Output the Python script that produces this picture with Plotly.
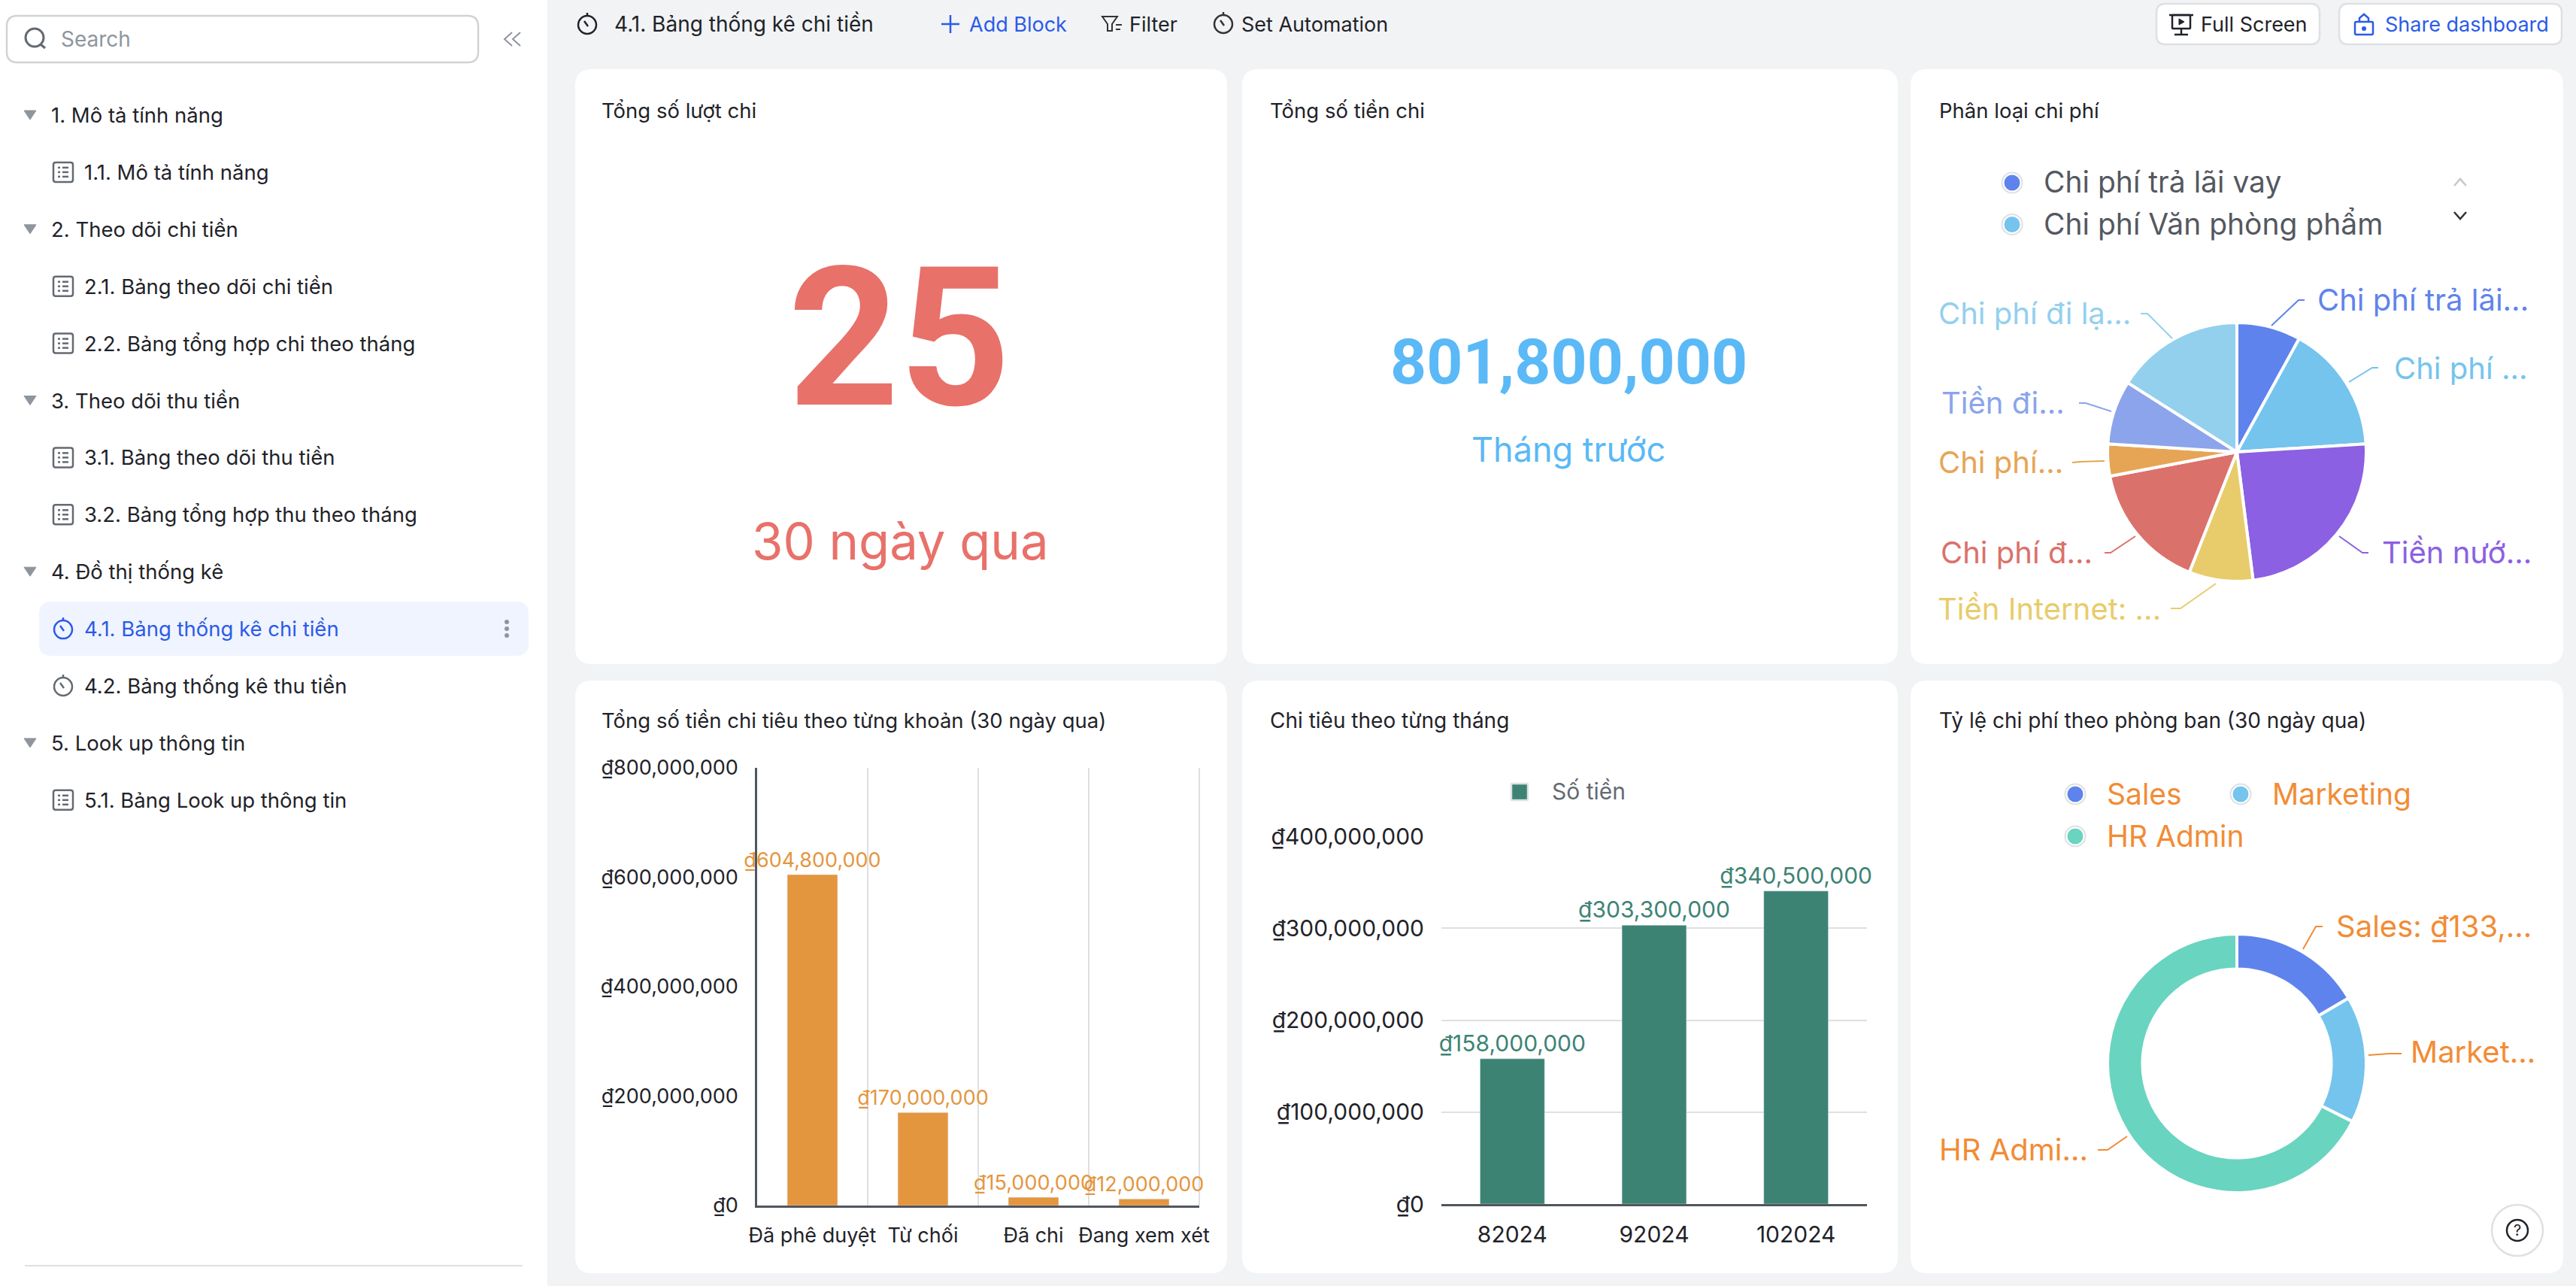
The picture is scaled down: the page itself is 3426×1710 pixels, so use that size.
import plotly.graph_objects as go

W = 3426
H = 1710

# data
status_names = ["Đã phê duyệt", "Từ chối", "Đã chi", "Đang xem xét"]
status_values = [604800000, 170000000, 15000000, 12000000]
month_names = ["82024", "92024", "102024"]
month_values = [158000000, 303300000, 340500000]
cost_names = ["Chi phí trả lãi vay", "Chi phí Văn phòng phẩm", "Tiền nước", "Tiền Internet",
              "Chi phí điện", "Chi phí khác", "Tiền điện", "Chi phí đi lại"]
cost_labels = ["Chi phí trả lãi...", "Chi phí ...", "Tiền nướ...", "Tiền Internet: ...",
               "Chi phí đ...", "Chi phí...", "Tiền đi...", "Chi phí đi lạ..."]
cost_shares = [8, 16, 24, 8, 16, 4, 8, 16]
dept_names = ["Sales", "Marketing", "HR Admin"]
dept_labels = ["Sales: ₫133,...", "Market...", "HR Admi..."]
dept_values = [133000000, 127000000, 541800000]
total_count = "25"
total_money = "801,800,000"

menu_items = ["1. Mô tả tính năng", "1.1. Mô tả tính năng", "2. Theo dõi chi tiền", "2.1. Bảng theo dõi chi tiền",
              "2.2. Bảng tổng hợp chi theo tháng", "3. Theo dõi thu tiền", "3.1. Bảng theo dõi thu tiền",
              "3.2. Bảng tổng hợp thu theo tháng", "4. Đồ thị thống kê", "4.1. Bảng thống kê chi tiền",
              "4.2. Bảng thống kê thu tiền", "5. Look up thông tin", "5.1. Bảng Look up thông tin"]
menu_kinds = ["group", "table", "group", "table", "table", "group", "table", "table", "group",
              "active", "clock", "group", "table"]

cost_colors = ["#5F83EC", "#74C4EE", "#8B60E3", "#E8CC6B", "#DB716B", "#E6A555", "#8BA4EB", "#93D0EE"]
dept_colors = ["#5F83EC", "#74C4EE", "#69D4C0"]
ORANGE = "#E4963F"
GREEN = "#3D8374"
LABEL_ORANGE = "#F28C35"
DARK = "#1F2329"
GREY = "#8F959E"
BLUE = "#2B5BE8"
FONT = "Inter"

shapes = []
notes = []


def fx(x):
    return x / W


def fy(y):
    return 1 - y / H


def text(x, y, s, size=28, color=DARK, anchor="left", family=FONT):
    notes.append(dict(x=fx(x), y=fy(y), xref="paper", yref="paper", text=s, showarrow=False,
                      xanchor=anchor, yanchor="middle", borderpad=0,
                      font=dict(family=family, size=size, color=color)))


def path(points, color, width=2, fill=None, closed=False, layer="above"):
    d = "M " + " L ".join(f"{fx(p[0])} {fy(p[1])}" for p in points)
    if closed:
        d += " Z"
    shapes.append(dict(type="path", xref="paper", yref="paper", path=d, layer=layer,
                       line=dict(color=color, width=width), fillcolor=fill))


def rounded(x0, y0, x1, y1, r, fill="white", border=None, width=2, layer="below"):
    a, b, c, d = fx(x0), fy(y0), fx(x1), fy(y1)
    rx, ry = r / W, r / H
    p = (f"M {a + rx} {b} L {c - rx} {b} Q {c} {b} {c} {b - ry} L {c} {d + ry} Q {c} {d} {c - rx} {d} "
         f"L {a + rx} {d} Q {a} {d} {a} {d + ry} L {a} {b - ry} Q {a} {b} {a + rx} {b} Z")
    line = dict(color=border, width=width) if border else dict(width=0)
    shapes.append(dict(type="path", xref="paper", yref="paper", path=p, fillcolor=fill, line=line, layer=layer))


def circle(cx, cy, r, fill=None, border=None, width=2):
    line = dict(color=border, width=width) if border else dict(width=0)
    shapes.append(dict(type="circle", xref="paper", yref="paper", x0=fx(cx - r), x1=fx(cx + r),
                       y0=fy(cy + r), y1=fy(cy - r), fillcolor=fill, line=line, layer="above"))


def table_icon(cx, cy, color="#646A73"):
    rounded(cx - 13, cy - 13, cx + 13, cy + 13, 3, fill="white", border=color, width=2.5, layer="above")
    for dy in (-6, 0, 6):
        path([(cx - 7, cy + dy), (cx - 4, cy + dy)], color, 2.5)
        path([(cx - 1, cy + dy), (cx + 7, cy + dy)], color, 2.5)


def clock_icon(cx, cy, color):
    circle(cx, cy, 12, border=color, width=2.5)
    path([(cx, cy - 12), (cx, cy - 16)], color, 2.5)
    path([(cx - 4, cy - 5), (cx + 1, cy + 2)], color, 2.5)


# page blocks
rounded(-10, -10, 728, H + 10, 0)
cols = [(765, 1632), (1652, 2524), (2541, 3409)]
rows = [(92, 883), (905, 1693)]
for r in rows:
    for c in cols:
        rounded(c[0], r[0], c[1], r[1], 22)

# sidebar
rounded(9, 21, 636, 83, 14, border="#D0D3D6", width=2.5)
circle(46, 50, 12, border="#646A73", width=3)
path([(54, 59), (60, 64)], "#646A73", 3)
text(80, 52, "Search", 28, GREY)
path([(681, 43), (671, 52), (681, 61)], GREY, 2)
path([(692, 43), (682, 52), (692, 61)], GREY, 2)
rounded(52, 800, 703, 872, 16, fill="#F0F4FF")
for i in range(len(menu_items)):
    y = 153 + i * 75.9
    kind = menu_kinds[i]
    if kind == "group":
        path([(32, y - 6), (48, y - 6), (40, y + 6)], "#8F959E", 1, fill="#8F959E", closed=True)
        text(67, y, menu_items[i], 27.5)
    else:
        if kind == "table":
            table_icon(84, y)
        else:
            clock_icon(84, y + 1, BLUE if kind == "active" else "#646A73")
        text(111, y, menu_items[i], 27.5, color=BLUE if kind == "active" else DARK)
for dy in (-9, 0, 9):
    circle(674, 836 + dy, 3, fill=GREY)
path([(33, 1683), (695, 1683)], "#DEE0E3", 2)

# top bar
clock_icon(781, 33, DARK)
text(816, 32, menu_items[9])
path([(1252, 32), (1276, 32)], BLUE, 2.5)
path([(1264, 20), (1264, 44)], BLUE, 2.5)
text(1288, 32, "Add Block", 27, BLUE)
path([(1466, 22), (1486, 22), (1479, 32), (1479, 41), (1473, 41), (1473, 32)], "#333", 2, closed=True)
path([(1484, 33), (1492, 33)], "#333", 2)
path([(1484, 39), (1490, 39)], "#333", 2)
text(1501, 32, "Filter", 27)
clock_icon(1627, 32, "#333")
text(1650, 32, "Set Automation", 27)
rounded(2868, 5, 3085, 59, 12, border="#DEE0E3", width=2.5)
rounded(3111, 5, 3407, 59, 12, border="#DEE0E3", width=2.5)
rounded(2889, 20, 2913, 38, 1, fill="white", border=DARK, width=2.5, layer="above")
path([(2885, 20), (2917, 20)], DARK, 2.5)
path([(2901, 38), (2901, 46)], DARK, 2.5)
path([(2892, 46), (2910, 46)], DARK, 2.5)
path([(2898, 25), (2905, 29), (2898, 33)], DARK, 1, fill=DARK, closed=True)
text(2926, 32, "Full Screen", 27)
rounded(3132, 29, 3156, 46, 2, fill="white", border=BLUE, width=2.5, layer="above")
path([(3138, 29), (3138, 24), (3144, 19), (3150, 24), (3150, 29)], BLUE, 2.5)
circle(3144, 38, 3, fill=BLUE)
text(3171, 32, "Share dashboard", 27, BLUE)

# card titles
text(799, 147, "Tổng số lượt chi", 27.5)
text(1688, 147, "Tổng số tiền chi", 27.5)
text(2578, 147, "Phân loại chi phí", 27.5)
text(799, 958, "Tổng số tiền chi tiêu theo từng khoản (30 ngày qua)", 27.5)
text(1688, 958, "Chi tiêu theo từng tháng", 28)
text(2578, 958, "Tỷ lệ chi phí theo phòng ban (30 ngày qua)", 28)

# big numbers
text(1196, 450, f"<b>{total_count}</b>", 258, "#E8716A", "center", "Roboto")
text(1197, 719, "30 ngày qua", 67, "#E8716A", "center")
text(2086, 481, f"<b>{total_money}</b>", 84, "#5AB9F6", "center", "Roboto")
text(2086, 597, "Tháng trước", 45, "#5AB9F6", "center")

# legends, built by hand because the native one cannot sit like this
for i in range(2):
    circle(2676, 243 + i * 55.5, 13.5, fill="white", border="#DEE0E3", width=2)
    circle(2676, 243 + i * 55.5, 10.5, fill=cost_colors[i])
    text(2717, 242 + i * 55.5, cost_names[i], 39, "#54585F")
path([(3264, 247), (3272, 238), (3280, 247)], "#C4C7CC", 2.5)
path([(3264, 282), (3272, 291), (3280, 282)], "#333", 2.5)
rounded(2010, 1042, 2032, 1064, 1, fill=GREEN, border="#DEE0E3", width=2.5, layer="above")
text(2063, 1052, "Số tiền", 30, "#646A73")
legend_spots = [(2760, 1056), (2980, 1056), (2760, 1112)]
for i in range(3):
    lx, ly = legend_spots[i]
    circle(lx, ly, 13.5, fill="white", border="#DEE0E3", width=2)
    circle(lx, ly, 10.5, fill=dept_colors[i])
    text(lx + 41, ly - 1, dept_names[i], 39, LABEL_ORANGE)

# pie leader lines: (start, elbow, end), label anchor
cost_leaders = [
    ((3021, 433), (3057, 399), (3065, 399), (3081, 398, "left")),
    ((3124, 508), (3155, 489), (3163, 489), (3183, 489, "left")),
    ((3111, 713), (3142, 735), (3150, 735), (3167, 734, "left")),
    ((2947, 776), (2900, 809), (2887, 809), (2875, 809, "right")),
    ((2840, 713), (2807, 735), (2799, 735), (2784, 734, "right")),
    ((2799, 613), (2766, 614), (2756, 615), (2745, 614, "right")),
    ((2808, 547), (2774, 536), (2765, 536), (2747, 536, "right")),
    ((2889, 450), (2856, 417), (2847, 417), (2835, 417, "right")),
]
for i in range(len(cost_labels)):
    a, b, c, t = cost_leaders[i]
    path([a, b, c], cost_colors[i], 2)
    text(t[0], t[1], cost_labels[i], 40, cost_colors[i], t[2])
dept_leaders = [
    ((3063, 1262), (3080, 1232), (3089, 1232), (3106, 1231, "left")),
    ((3150, 1403), (3178, 1401), (3194, 1401), (3205, 1398, "left")),
    ((2829, 1511), (2803, 1529), (2790, 1529), (2778, 1528, "right")),
]
for i in range(len(dept_labels)):
    a, b, c, t = dept_leaders[i]
    path([a, b, c], LABEL_ORANGE, 2)
    text(t[0], t[1], dept_labels[i], 40, LABEL_ORANGE, t[2])

# help button
circle(3348, 1636, 34, fill="white", border="#DEE0E3", width=2.5)
circle(3348, 1636, 14, border=DARK, width=2.5)
text(3348, 1636, "?", 20, DARK, "center")

axis_line = "#51565D"
grid_line = "#DEE0E3"
# the last category boundary gets no grid line of its own
path([(1595, 1021), (1595, 1603)], grid_line, 2, layer="below")


def dom(a, b, size):
    return [a / size, b / size]


def pie_box(cx, cy, r):
    return dict(x=dom(cx - r, cx + r, W), y=[1 - (cy + r) / H, 1 - (cy - r) / H])


fig = go.Figure()
fig.add_trace(go.Bar(x=status_names, y=status_values, marker_color=ORANGE, xaxis="x", yaxis="y",
                     texttemplate="₫%{y:,.0f}", textposition="outside", cliponaxis=False, constraintext="none",
                     textfont=dict(family=FONT, size=27, color=ORANGE), name="Số tiền"))
fig.add_trace(go.Bar(x=month_names, y=month_values, marker_color=GREEN, xaxis="x2", yaxis="y2",
                     texttemplate="₫%{y:,.0f}", textposition="outside", cliponaxis=False, constraintext="none",
                     textfont=dict(family=FONT, size=30, color=GREEN), name="Số tiền"))
fig.add_trace(go.Pie(labels=cost_names, values=cost_shares, sort=False, direction="clockwise", rotation=0,
                     marker=dict(colors=cost_colors, line=dict(color="white", width=4)), textinfo="none",
                     domain=pie_box(2975, 601, 172)))
fig.add_trace(go.Pie(labels=dept_names, values=dept_values, sort=False, direction="clockwise", rotation=0, hole=0.73,
                     marker=dict(colors=dept_colors, line=dict(color="white", width=4)), textinfo="none",
                     domain=pie_box(2975, 1414, 172)))

fig.update_layout(
    width=W, height=H, showlegend=False, bargap=0.545,
    margin=dict(l=0, r=0, t=0, b=0),
    paper_bgcolor="#F2F3F5", plot_bgcolor="rgba(0,0,0,0)",
    font=dict(family=FONT, color=DARK),
    shapes=shapes, annotations=notes,
    xaxis=dict(domain=dom(1007, 1595, W), anchor="y", type="category", tickson="boundaries", showgrid=True,
               gridcolor=grid_line, gridwidth=2, showline=True, linecolor=axis_line, linewidth=2.5, automargin=False,
               tickangle=0, ticks="", ticklabelstandoff=14, tickfont=dict(size=27), fixedrange=True),
    yaxis=dict(domain=[1 - 1603 / H, 1 - 1021 / H], anchor="x", range=[0, 800000000], tick0=0, dtick=200000000,
               tickprefix="₫", tickformat=",", showgrid=False, zeroline=False, showline=True, linecolor=axis_line, linewidth=2.5,
               automargin=False, ticks="", ticklabelstandoff=17, tickfont=dict(size=27), fixedrange=True),
    xaxis2=dict(domain=dom(1917, 2483, W), anchor="y2", type="category", showgrid=False, showline=True, automargin=False,
                linecolor=axis_line, linewidth=2.5, tickangle=0, ticks="", ticklabelstandoff=12, tickfont=dict(size=30), fixedrange=True),
    yaxis2=dict(domain=[1 - 1601 / H, 1 - 1112 / H], anchor="x2", range=[0, 400000000], tick0=0, dtick=100000000,
                tickprefix="₫", tickformat=",", showgrid=True, gridcolor=grid_line, gridwidth=2, zeroline=False, showline=False,
                automargin=False, ticks="", ticklabelstandoff=22, tickfont=dict(size=30), fixedrange=True),
)

fig.write_html("out.html", config={"displayModeBar": False}, post_script="document.body.style.margin='0'")
